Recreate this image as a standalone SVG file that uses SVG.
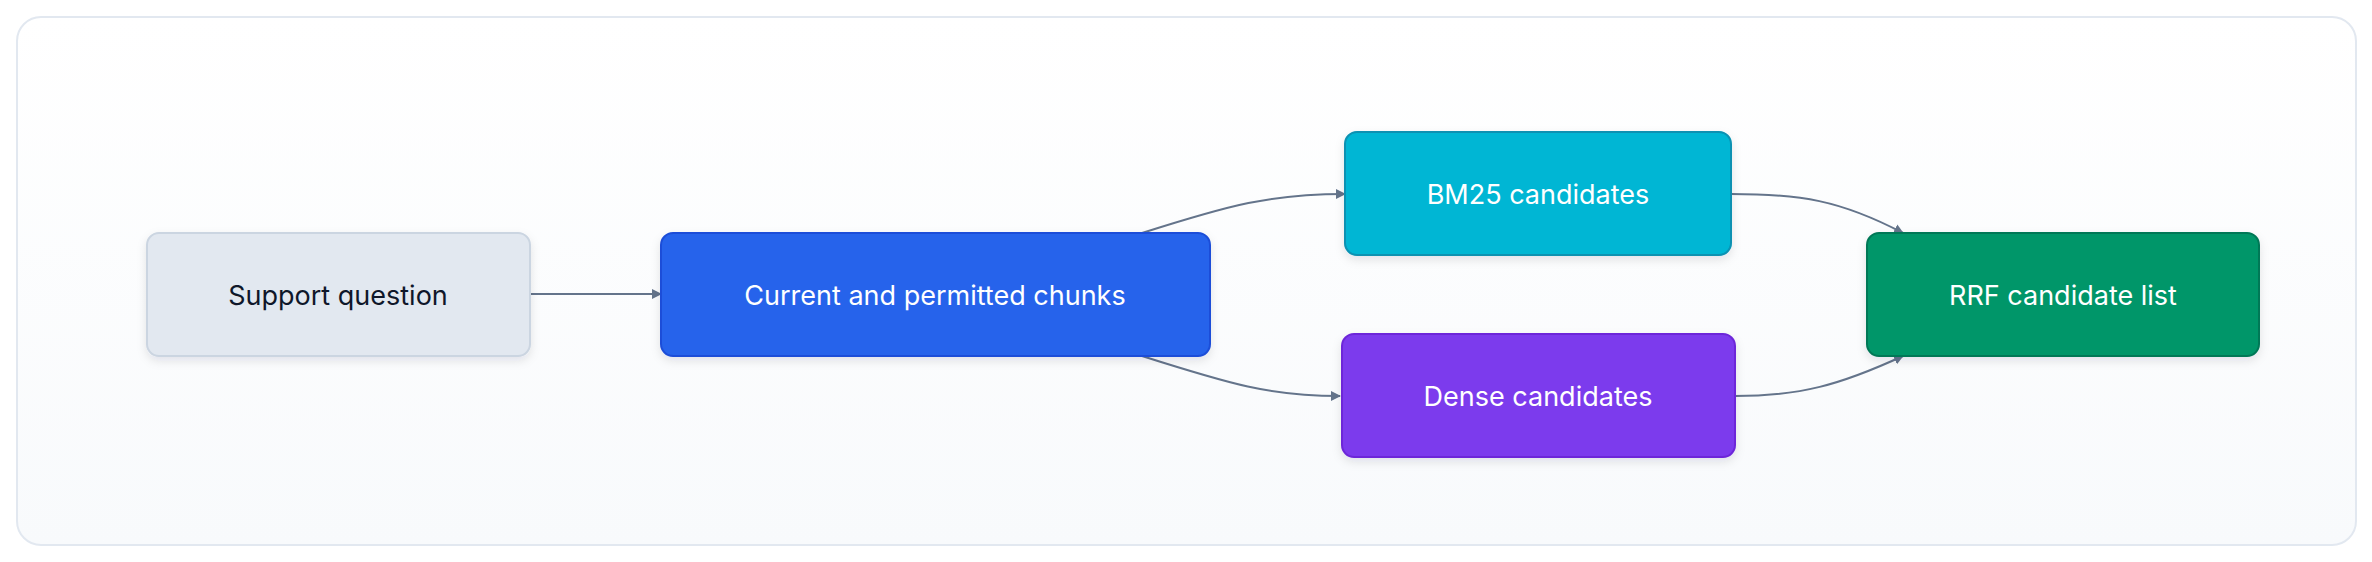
<svg xmlns="http://www.w3.org/2000/svg" width="2372" height="562" viewBox="0 0 2372 562">
<style>
.lbl{font-family:Inter,"Noto Sans",sans-serif;font-size:27px;text-anchor:middle;dominant-baseline:central}
.w{fill:#ffffff}.d{fill:#0f172a}
.e{fill:none;stroke:#64748b;stroke-width:2}
</style>
<defs>
<linearGradient id="bg" x1="0" y1="0" x2="0" y2="1"><stop offset="0" stop-color="#ffffff"/><stop offset="1" stop-color="#f8fafc"/></linearGradient>
<filter id="sh" x="-10%" y="-20%" width="120%" height="150%"><feDropShadow dx="0" dy="4" stdDeviation="5" flood-color="#0f172a" flood-opacity="0.1"/></filter>
<marker id="ah" markerWidth="10" markerHeight="10" refX="9" refY="5" orient="auto" markerUnits="userSpaceOnUse" viewBox="0 0 10 10"><path d="M0,0 L10,5 L0,10 z" fill="#64748b"/></marker>
</defs>
<rect x="0" y="0" width="2372" height="562" fill="#ffffff"/>
<rect x="17" y="17" width="2339" height="528" rx="24" fill="url(#bg)" stroke="#e2e8f0" stroke-width="2"/>
<g id="edges">
<path class="e" marker-end="url(#ah)" d="M530,294 L661,294"/>
<path class="e" marker-end="url(#ah)" d="M1142,233 C1230,205 1270,194 1345,194"/>
<path class="e" marker-end="url(#ah)" d="M1142,356 C1230,384 1270,396 1340,396"/>
<path class="e" marker-end="url(#ah)" d="M1731,194 C1800,194 1840,200 1903,233"/>
<path class="e" marker-end="url(#ah)" d="M1735,396 C1800,396 1840,385 1903,356"/>
</g>
<g id="support"><rect x="147" y="233" width="383" height="123" rx="12" fill="#e2e8f0" stroke="#cbd5e1" stroke-width="2" filter="url(#sh)"/><text class="lbl d" x="338" y="295">Support question</text></g>
<g id="chunks"><rect x="661" y="233" width="549" height="123" rx="12" fill="#2563eb" stroke="#1d4ed8" stroke-width="2" filter="url(#sh)"/><text class="lbl w" x="935" y="295">Current and permitted chunks</text></g>
<g id="bm25"><rect x="1345" y="132" width="386" height="123" rx="12" fill="#06b6d4" stroke="#0891b2" stroke-width="2" filter="url(#sh)"/><text class="lbl w" x="1538" y="194">BM25 candidates</text></g>
<g id="dense"><rect x="1342" y="334" width="393" height="123" rx="12" fill="#7c3aed" stroke="#6d28d9" stroke-width="2" filter="url(#sh)"/><text class="lbl w" x="1538" y="396">Dense candidates</text></g>
<g id="rrf"><rect x="1867" y="233" width="392" height="123" rx="12" fill="#059669" stroke="#047857" stroke-width="2" filter="url(#sh)"/><text class="lbl w" x="2063" y="295">RRF candidate list</text></g>
</svg>
